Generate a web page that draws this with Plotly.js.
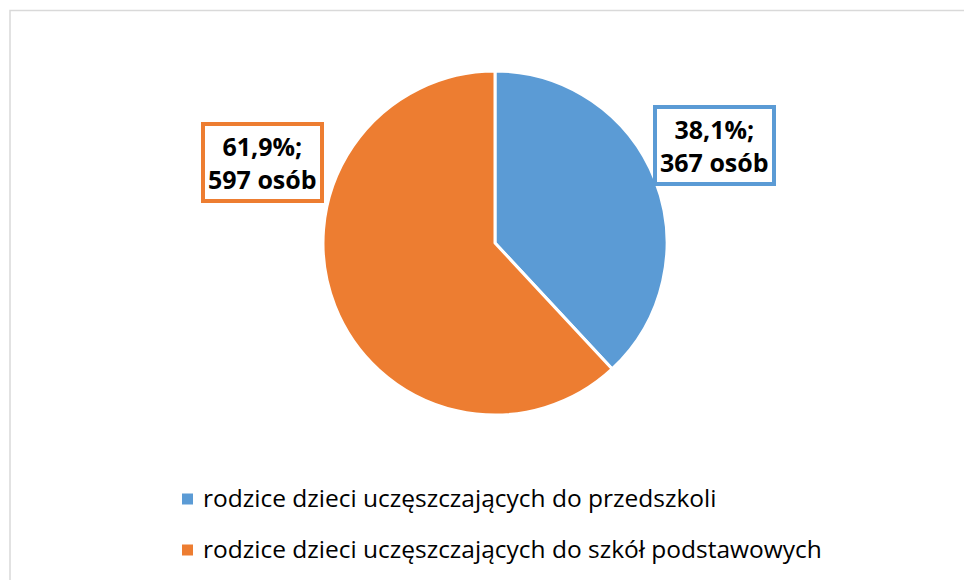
<!DOCTYPE html>
<html>
<head>
<meta charset="utf-8">
<script src="https://cdn.plot.ly/plotly-3.0.1.min.js"></script>
<style>html,body{margin:0;padding:0;background:#fff;}#chart{width:964px;height:580px;}</style>
</head>
<body>
<div id="chart"></div>
<script>
const categories = ["rodzice dzieci uczęszczających do przedszkoli", "rodzice dzieci uczęszczających do szkół podstawowych"];
const values = [367, 597];
const colors = ["#5B9BD5", "#ED7D31"];

const W = 964, H = 580;
const cx = 495, cy = 243, R = 172;
const total = values.reduce((a, b) => a + b, 0);
const pctText = values.map(v => (v / total * 100).toFixed(1).replace('.', ',') + '%;');
const labelPos = [[714.5, 145.5], [262, 163]];
const legendY = [497, 548];
const FONT = 'Open Sans, sans-serif';

const trace = {
  type: 'pie',
  labels: categories,
  values: values,
  marker: {colors: colors, line: {color: '#ffffff', width: 3}},
  sort: false,
  direction: 'clockwise',
  rotation: 0,
  textinfo: 'none',
  hoverinfo: 'label+value+percent',
  showlegend: false,
  domain: {x: [(cx - R) / W, (cx + R) / W], y: [1 - (cy + R) / H, 1 - (cy - R) / H]}
};

const annotations = values.map((v, i) => ({
  xref: 'paper', yref: 'paper',
  x: labelPos[i][0] / W, y: 1 - labelPos[i][1] / H,
  xanchor: 'center', yanchor: 'middle',
  text: '<b>' + pctText[i] + '<br>' + v + ' osób</b>',
  showarrow: false,
  align: 'center',
  font: {family: FONT, size: 25, color: '#000'},
  bgcolor: '#ffffff',
  bordercolor: colors[i],
  borderwidth: 4,
  borderpad: 3
}));

const shapes = [{
  type: 'rect', xref: 'paper', yref: 'paper',
  x0: 10 / W, x1: 1.05, y0: -0.05, y1: 1 - 10.5 / H,
  line: {color: '#D9D9D9', width: 1.5}, fillcolor: 'rgba(0,0,0,0)'
}];

categories.forEach((c, i) => {
  shapes.push({
    type: 'rect', xref: 'paper', yref: 'paper',
    x0: 182 / W, x1: 193 / W, y0: 1 - (legendY[i] + 7.5) / H, y1: 1 - (legendY[i] - 3.5) / H,
    line: {width: 0}, fillcolor: colors[i]
  });
  annotations.push({
    xref: 'paper', yref: 'paper',
    x: 201 / W, y: 1 - legendY[i] / H,
    xanchor: 'left', yanchor: 'middle',
    text: c, showarrow: false,
    font: {family: FONT, size: 24.5, color: '#000'}
  });
});

const layout = {
  width: W, height: H,
  margin: {l: 0, r: 0, t: 0, b: 0, autoexpand: false},
  paper_bgcolor: '#ffffff',
  showlegend: false,
  annotations: annotations,
  shapes: shapes
};

Plotly.newPlot('chart', [trace], layout, {displayModeBar: false, staticPlot: true});
</script>
</body>
</html>
